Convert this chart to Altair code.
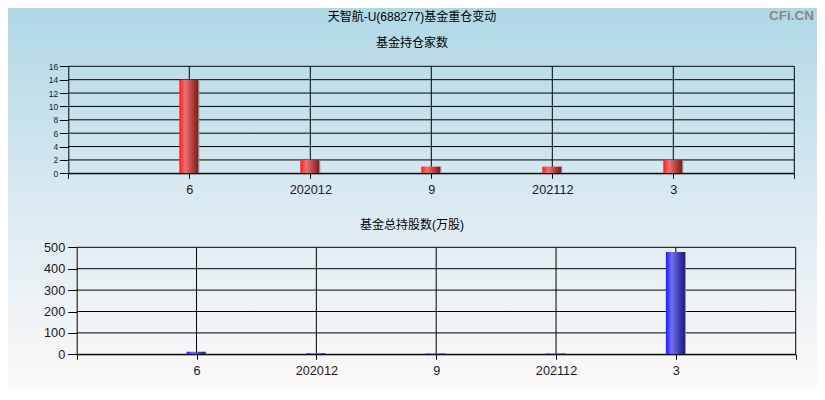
import json
import altair as alt
import pandas as pd

# ---- data ----
periods = ["6", "202012", "9", "202112", "3"]
fund_counts = [14, 2, 1, 1, 2]          # 基金持仓家数
fund_shares = [12, 5, 4, 4, 478]        # 基金总持股数(万股)
count_ticks = [0, 2, 4, 6, 8, 10, 12, 14, 16]
share_ticks = [0, 100, 200, 300, 400, 500]
slots = [0, 1, 2, 3, 4, 5, 6]           # category slots on the x axis
main_title = "天智航-U(688277)基金重仓变动"
top_title = "基金持仓家数"
bottom_title = "基金总持股数(万股)"
watermark = "CFi.CN"

W, H = 809, 380
LAT = "Liberation Sans"
CJK = "Liberation Sans, Noto Sans CJK SC"

bars_df = pd.DataFrame({"pos": list(range(1, len(periods) + 1)),
                        "period": periods,
                        "count": fund_counts,
                        "shares": fund_shares})
ct_df = pd.DataFrame({"v": count_ticks})
st_df = pd.DataFrame({"v": share_ticks})
sl_df = pd.DataFrame({"s": slots[1:]})

label_expr = json.dumps([""] + periods + [""]) + "[datum.value]"

top_x = alt.Scale(domain=[0, 6], range=[60.3, 786.3], nice=False, zero=False, padding=0)
top_y = alt.Scale(domain=[0, 16], range=[165.3, 58.3], nice=False, padding=0)
bot_x = alt.Scale(domain=[0, 6], range=[68.7, 787.7], nice=False, zero=False, padding=0)
bot_y = alt.Scale(domain=[0, 500], range=[346.3, 239.3], nice=False, padding=0)

def x_axis(offset):
    return alt.Axis(orient="bottom", offset=offset, values=slots, labelExpr=label_expr,
                    grid=False, tickSize=5, labelPadding=5.5, labelFont=LAT,
                    labelFontSize=12.7, labelColor="#1a1a1a", domainColor="#000",
                    tickColor="#000", labelFlush=False, labelOverlap=False, zindex=1,
                    title=None)

def y_axis(offset, values, fs, pad):
    return alt.Axis(orient="left", offset=offset, values=values, grid=False,
                    tickSize=9, labelPadding=pad, labelFont=LAT, labelFontSize=fs,
                    labelColor="#1a1a1a", domainColor="#000", tickColor="#000",
                    labelFlush=False, labelOverlap=False, zindex=1, title=None)

bg = alt.Chart(pd.DataFrame({"a": [0]})).mark_rect(
    fill=alt.Gradient(gradient="linear", x1=0, x2=0, y1=0, y2=1,
                      stops=[alt.GradientStop(offset=0, color="#afd8e7"),
                             alt.GradientStop(offset=0.5, color="#d9e9f1"),
                             alt.GradientStop(offset=1, color="#fdf9f9")])
).encode(x=alt.value(0), x2=alt.value(W), y=alt.value(0), y2=alt.value(H))

def hgrid(df, xs, ys):
    return alt.Chart(df).mark_rule(color="#000", strokeWidth=1).encode(
        y=alt.Y("v:Q", scale=ys, axis=None),
        x=alt.X(datum=0, type="quantitative", scale=xs, axis=None),
        x2=alt.X2(datum=6))

def vgrid(xs, ys, top):
    return alt.Chart(sl_df).mark_rule(color="#000", strokeWidth=1).encode(
        x=alt.X("s:Q", scale=xs, axis=None),
        y=alt.Y(datum=0, type="quantitative", scale=ys, axis=None),
        y2=alt.Y2(datum=top))

red = alt.Gradient(gradient="linear", x1=0, x2=1, y1=0, y2=0, stops=[
    alt.GradientStop(offset=0, color="#ff1c1c"),
    alt.GradientStop(offset=0.12, color="#ff3c3c"),
    alt.GradientStop(offset=0.3, color="#e67474"),
    alt.GradientStop(offset=0.6, color="#c04444"),
    alt.GradientStop(offset=0.93, color="#7c1e1e"),
    alt.GradientStop(offset=0.95, color="#8a8a8a"),
    alt.GradientStop(offset=1, color="#8a8a8a")])
blue = alt.Gradient(gradient="linear", x1=0, x2=1, y1=0, y2=0, stops=[
    alt.GradientStop(offset=0, color="#1c1cff"),
    alt.GradientStop(offset=0.12, color="#3c3cff"),
    alt.GradientStop(offset=0.3, color="#7474e6"),
    alt.GradientStop(offset=0.6, color="#4444c0"),
    alt.GradientStop(offset=0.93, color="#1e1e84"),
    alt.GradientStop(offset=0.95, color="#8a8a8a"),
    alt.GradientStop(offset=1, color="#8a8a8a")])

top_bars = alt.Chart(bars_df).mark_bar(fill=red, size=20, orient="vertical").encode(
    x=alt.X("pos:Q", scale=top_x, axis=x_axis(165.3 - H)),
    y=alt.Y("count:Q", scale=top_y, stack=None, axis=y_axis(-60.3, count_ticks, 8.5, 1.5)))

bot_bars = alt.Chart(bars_df).mark_bar(fill=blue, size=20, orient="vertical").encode(
    x=alt.X("pos:Q", scale=bot_x, axis=x_axis(346.3 - H)),
    y=alt.Y("shares:Q", scale=bot_y, stack=None, axis=y_axis(-68.7, share_ticks, 12.7, 3)))

def text_layer(txt, x, y, size, align="center", baseline="middle", color="#000",
               weight="normal", font=CJK):
    return alt.Chart(pd.DataFrame({"t": [txt]})).mark_text(
        font=font, fontSize=size, align=align, baseline=baseline, color=color,
        fontWeight=weight).encode(text="t:N", x=alt.value(x), y=alt.value(y))

chart = alt.layer(
    bg,
    hgrid(ct_df, top_x, top_y), vgrid(top_x, top_y, 16), top_bars,
    hgrid(st_df, bot_x, bot_y), vgrid(bot_x, bot_y, 500), bot_bars,
    text_layer(main_title, 404, 9, 12),
    text_layer(top_title, 404, 35, 12),
    text_layer(bottom_title, 404, 217, 12),
    text_layer(watermark, 806, 12, 13.5, align="right", baseline="alphabetic",
               color="#888888", weight="bold", font=LAT),
).resolve_scale(x="independent", y="independent").properties(
    width=W, height=H, padding=0, autosize=alt.AutoSizeParams(type="none")
).configure_view(strokeWidth=0)

chart.save("out.html", embed_options={"renderer": "svg", "actions": False})
